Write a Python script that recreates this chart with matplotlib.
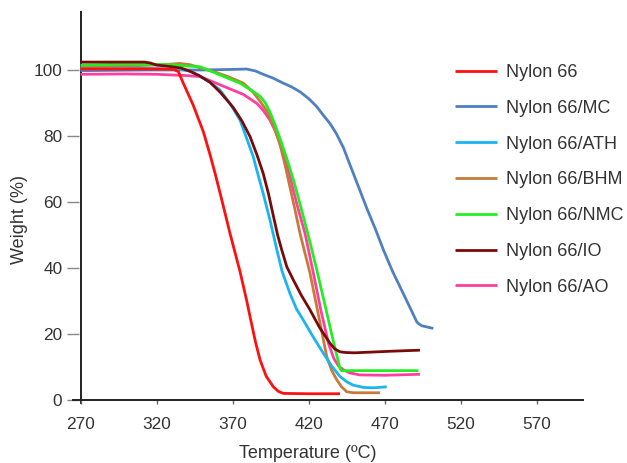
import matplotlib
matplotlib.use("Agg")
import matplotlib.pyplot as plt

plt.rcParams['font.family'] = ['Liberation Sans', 'DejaVu Sans']

# ---- data ----
n66_T = [270, 320, 331, 334.3, 338, 344, 350.7, 355, 358.4, 363, 368.2, 374.8, 379, 381.4, 385, 388, 392, 396.7, 400, 403.3, 420, 440.5]
n66_W = [100.3, 100.3, 100.2, 99.5, 95.5, 89.4, 81.3, 74.5, 68.7, 60.3, 50.5, 38.9, 30.5, 25.2, 17.5, 12.1, 7.2, 4.0, 2.6, 2.0, 1.9, 1.9]

mc_T = [270, 315, 350, 372, 379, 385, 390, 396.7, 403.3, 409, 414.2, 420, 425.2, 430, 433.9, 438, 442.7, 446, 449.2, 454, 458, 464, 469, 475, 482, 487, 490.9, 492.5, 494.2, 501.8]
mc_W = [99.8, 100, 100, 100.2, 100.3, 99.7, 98.7, 97.5, 96, 94.8, 93.4, 91.3, 88.9, 86, 83.8, 80.8, 76.5, 72.5, 68.7, 63, 58.2, 51.5, 45.5, 39, 32.3, 27.5, 23.7, 23.0, 22.5, 21.7]

ath_T = [270, 310, 335, 343, 350.7, 356, 361.7, 368, 374.8, 379, 383.5, 386.5, 390, 394.5, 399, 402.5, 407.6, 412, 416.4, 423, 429.5, 435, 440.5, 445, 449.2, 456, 463, 471.2]
ath_W = [100.3, 100.5, 100.3, 99.5, 97.5, 96, 93.9, 90.0, 84.8, 79.5, 73.7, 68.5, 62.6, 54.5, 45.5, 38.9, 32.3, 27.5, 24.2, 19, 14.2, 10.3, 7.1, 5.5, 4.5, 3.8, 3.7, 4.0]

bhm_T = [270, 300, 325, 335, 342, 348.5, 359.5, 368, 377, 383, 388, 392.5, 396.7, 401, 404.5, 407.6, 411, 414.2, 420.8, 426, 431.8, 435, 438.4, 441.5, 444.9, 449, 466.8]
bhm_W = [100.8, 101.2, 101.6, 102, 101.6, 100.7, 99.2, 97.8, 96, 93.5, 90.5, 87.5, 83.5, 77.5, 71, 64.5, 57.5, 50.5, 38.4, 26.5, 13.1, 9, 6.1, 4, 2.5, 2.2, 2.2]

nmc_T = [270, 300, 330, 340, 348.5, 361.7, 374.8, 380, 385, 388, 391.5, 394.5, 398, 402, 406, 410, 414, 419.7, 425.2, 430.6, 436, 440.5, 441.5, 460, 492]
nmc_W = [101.5, 101.8, 101.6, 101.2, 101, 98.5, 96, 94.5, 93, 92, 90, 87.2, 83.2, 78, 72.5, 66.5, 59.8, 49.8, 39.5, 28.8, 18, 9.5, 8.9, 8.9, 8.9]

io_T = [270, 312, 316, 320, 328, 336, 342, 348, 355, 361.7, 366, 370.4, 376, 381.4, 386, 390, 393.5, 396.7, 399.5, 402.2, 405.5, 409.8, 415, 420.8, 427, 433.9, 437, 440.5, 444, 450, 460, 475, 493]
io_W = [102.4, 102.4, 102.1, 101.5, 101.1, 100.6, 99.6, 98.3, 96.3, 93.3, 91, 88.6, 84.6, 79.8, 74.2, 68.7, 62.5, 55.8, 50, 45.5, 40.4, 36.4, 31.8, 27.3, 22, 17.2, 15.5, 14.6, 14.4, 14.3, 14.5, 14.8, 15.1]

ao_T = [270, 300, 320, 340, 348.5, 355, 361.7, 369.6, 377, 385.8, 390, 394.5, 398, 401, 404.5, 407.6, 412, 417.5, 423, 428, 433, 436.5, 439.5, 442.7, 447, 453.6, 470, 493]
ao_W = [98.7, 98.8, 98.7, 98.3, 98, 96.8, 95.5, 94, 92.6, 89.9, 87.8, 84.8, 81.5, 77.8, 73, 67.7, 59.6, 50.5, 38.4, 27, 17, 12.5, 10.3, 9.2, 8.2, 7.6, 7.5, 7.8]

labels = ["Nylon 66", "Nylon 66/MC", "Nylon 66/ATH", "Nylon 66/BHM",
          "Nylon 66/NMC", "Nylon 66/IO", "Nylon 66/AO"]
colors = ["#ff1010", "#4f80c0", "#1ab4f0", "#c87a3a", "#22ee22", "#7a0a0a", "#ff3f9f"]

x_ticks = [270, 320, 370, 420, 470, 520, 570]
y_ticks = [0, 20, 40, 60, 80, 100]

series = [(n66_T, n66_W), (mc_T, mc_W), (ath_T, ath_W), (bhm_T, bhm_W),
          (nmc_T, nmc_W), (io_T, io_W), (ao_T, ao_W)]

W_PX, H_PX = 627, 463
ax_l, ax_r, ax_b, ax_t = 72.9, 582.8, 404.3, 10.6   # pixel edges of the axes
fig = plt.figure(figsize=(W_PX / 100, H_PX / 100), dpi=100)
ax = fig.add_axes([ax_l / W_PX, (H_PX - ax_b) / H_PX,
                   (ax_r - ax_l) / W_PX, (ax_b - ax_t) / H_PX])

order = [1, 6, 3, 2, 4, 5, 0]
handles = {}
for i in order:
    T, W = series[i]
    h, = ax.plot(T, W, color=colors[i], lw=2.0, label=labels[i],
                 solid_joinstyle='round', solid_capstyle='butt')
    handles[i] = h

ax.set_xlim(265, 600)
ax.set_ylim(-1.3, 118)
ax.spines['bottom'].set_position(('data', 0))
for s in ['top', 'right', 'left']:
    ax.spines[s].set_visible(False)
ax.spines['bottom'].set_linewidth(1.4)
ax.spines['bottom'].set_color('#222222')
# y axis line at T = 270
ax.plot([270, 270], [-1.3, 118], color='#222222', lw=1.4, clip_on=False,
        solid_capstyle='butt', zorder=1.5)

ax.set_xticks(x_ticks)
ax.set_yticks(y_ticks)
ax.tick_params(axis='x', direction='out', length=3, width=1.0, color='#666666',
               labelsize=12.4, labelcolor='#333333', pad=9)
ax.tick_params(axis='y', direction='inout', length=8, width=1.0, color='#888888',
               labelsize=12.4, labelcolor='#333333', pad=3.6)

ax.set_xlabel("Temperature (ºC)", fontsize=13, color='#333333')
ax.xaxis.set_label_coords((308 - ax_l) / (ax_r - ax_l), -(445 - ax_b) / (ax_b - ax_t))
ax.set_ylabel("Weight (%)", fontsize=13, color='#333333')
ax.yaxis.set_label_coords(-(ax_l - 28) / (ax_r - ax_l), (ax_b - 220) / (ax_b - ax_t))

leg = ax.legend([handles[i] for i in range(7)], labels, loc='upper left',
                bbox_to_anchor=(455 / W_PX, (H_PX - 64) / H_PX), bbox_transform=fig.transFigure,
                frameon=False, fontsize=13, handlelength=2.35, handletextpad=0.45,
                labelspacing=1.04, borderpad=0, borderaxespad=0)
for t in leg.get_texts():
    t.set_color('#333333')

fig.savefig("out.png", dpi=100)
